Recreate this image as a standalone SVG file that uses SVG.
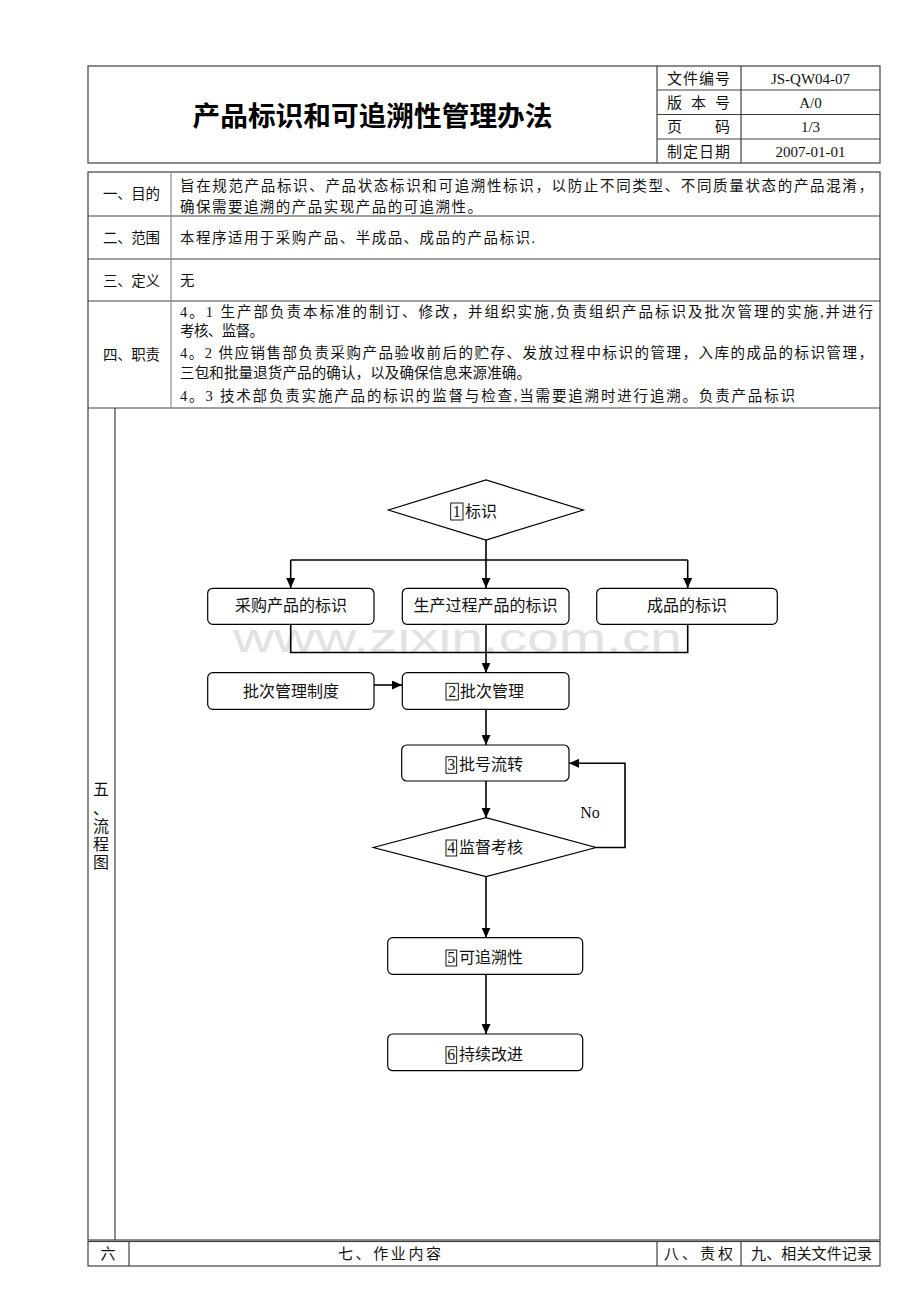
<svg xmlns="http://www.w3.org/2000/svg" width="920" height="1302" viewBox="0 0 920 1302">
<style>
.tbl{fill:none;stroke:#404040;stroke-width:1.2}
.ln{stroke:#404040;stroke-width:1.2;fill:none}
.ln2{stroke:#8a8a8a;stroke-width:1.2;fill:none}
.t{font-family:"Liberation Serif","Noto Sans CJK SC",serif;font-size:14.5px;fill:#111}
.hd{font-family:"Liberation Serif","Noto Sans CJK SC",serif;font-size:15px;fill:#111}
.title{font-family:"Noto Sans CJK SC",sans-serif;font-size:27px;font-weight:bold;fill:#000}
.ft{font-family:"Liberation Serif","Noto Sans CJK SC",serif;font-size:16px;fill:#111}
.box{fill:#fff;stroke:#000;stroke-width:1.2}
.num{fill:none;stroke:#000;stroke-width:0.9}
.cn{stroke:#000;stroke-width:1.6;fill:none}
.wm{font-family:"Liberation Sans",Arial,sans-serif;font-size:40px;fill:#e2e2e2}
</style>
<defs>
<marker id="ah" markerUnits="userSpaceOnUse" markerWidth="10" markerHeight="9" refX="10" refY="4.5" orient="auto">
<path d="M0,0 L10,4.5 L0,9 z" fill="#000"/>
</marker>
</defs>
<rect width="920" height="1302" fill="#fff"/>

<!-- header table -->
<g id="header">
<rect class="tbl" x="88" y="66" width="792" height="97"/>
<line class="ln" x1="657" y1="66" x2="657" y2="163"/>
<line class="ln" x1="741" y1="66" x2="741" y2="163"/>
<line class="ln" x1="657" y1="90" x2="880" y2="90"/>
<line class="ln" x1="657" y1="114.5" x2="880" y2="114.5"/>
<line class="ln" x1="657" y1="139" x2="880" y2="139"/>
<text class="title" x="372.5" y="126" text-anchor="middle" textLength="360" lengthAdjust="spacingAndGlyphs">产品标识和可追溯性管理办法</text>
<text class="hd" x="667" y="84" textLength="63" lengthAdjust="spacing">文件编号</text>
<text class="hd" x="667" y="108" textLength="63" lengthAdjust="spacing">版本号</text>
<text class="hd" x="667" y="132" textLength="63" lengthAdjust="spacing">页码</text>
<text class="hd" x="667" y="157" textLength="63" lengthAdjust="spacing">制定日期</text>
<text class="hd" x="810.5" y="84" text-anchor="middle" font-size="14">JS-QW04-07</text>
<text class="hd" x="810.5" y="108" text-anchor="middle" font-size="14">A/0</text>
<text class="hd" x="810.5" y="132" text-anchor="middle" font-size="14">1/3</text>
<text class="hd" x="810.5" y="157" text-anchor="middle" font-size="14">2007-01-01</text>
</g>

<!-- main table -->
<g id="main-table">
<rect class="tbl" x="88" y="172" width="792" height="1068"/>
<line class="ln" x1="88" y1="216" x2="880" y2="216"/>
<line class="ln" x1="88" y1="259" x2="880" y2="259"/>
<line class="ln" x1="88" y1="301" x2="880" y2="301"/>
<line class="ln" x1="88" y1="408" x2="880" y2="408"/>
<line class="ln2" x1="171" y1="172" x2="171" y2="408"/>
<line class="ln" x1="115" y1="408" x2="115" y2="1240"/>

<text class="t" x="103" y="199" textLength="57" lengthAdjust="spacing">一、目的</text>
<text class="t" x="180" y="191" textLength="693" lengthAdjust="spacing">旨在规范产品标识、产品状态标识和可追溯性标识，以防止不同类型、不同质量状态的产品混淆，</text>
<text class="t" x="180" y="212" textLength="302" lengthAdjust="spacing">确保需要追溯的产品实现产品的可追溯性。</text>

<text class="t" x="103" y="243" textLength="57" lengthAdjust="spacing">二、范围</text>
<text class="t" x="180" y="243" textLength="355" lengthAdjust="spacing">本程序适用于采购产品、半成品、成品的产品标识.</text>

<text class="t" x="103" y="286" textLength="57" lengthAdjust="spacing">三、定义</text>
<text class="t" x="180" y="286">无</text>

<text class="t" x="103" y="360" textLength="57" lengthAdjust="spacing">四、职责</text>
<text class="t" x="180" y="317" textLength="693" lengthAdjust="spacing">4。1 生产部负责本标准的制订、修改，并组织实施,负责组织产品标识及批次管理的实施,并进行</text>
<text class="t" x="180" y="336" textLength="84" lengthAdjust="spacing">考核、监督。</text>
<text class="t" x="180" y="358" textLength="693" lengthAdjust="spacing">4。2 供应销售部负责采购产品验收前后的贮存、发放过程中标识的管理，入库的成品的标识管理，</text>
<text class="t" x="180" y="378" textLength="351" lengthAdjust="spacing">三包和批量退货产品的确认，以及确保信息来源准确。</text>
<text class="t" x="180" y="401" textLength="615" lengthAdjust="spacing">4。3 技术部负责实施产品的标识的监督与检查,当需要追溯时进行追溯。负责产品标识</text>

<g class="ft" text-anchor="middle" font-size="16">
<text x="101" y="795">五</text>
<text x="101" y="814">、</text>
<text x="101" y="832">流</text>
<text x="101" y="850">程</text>
<text x="101" y="868">图</text>
</g>
</g>

<!-- bottom row -->
<g id="bottom-row">
<rect class="tbl" x="88" y="1241.5" width="792" height="24.5"/>
<line class="ln" x1="129" y1="1241.5" x2="129" y2="1266"/>
<line class="ln" x1="657" y1="1241.5" x2="657" y2="1266"/>
<line class="ln" x1="741" y1="1241.5" x2="741" y2="1266"/>
<text class="hd" x="108" y="1259" text-anchor="middle">六</text>
<text class="hd" x="338" y="1259" textLength="103" lengthAdjust="spacing">七、作业内容</text>
<text class="hd" x="664" y="1259" textLength="69" lengthAdjust="spacing">八、责权</text>
<text class="hd" x="751" y="1259" textLength="121" lengthAdjust="spacing">九、相关文件记录</text>
</g>

<!-- watermark -->
<text class="wm" x="233" y="652" textLength="449" lengthAdjust="spacingAndGlyphs">www.zixin.com.cn</text>

<!-- connectors -->
<g id="connectors">
<path class="cn" d="M486,540 V560"/>
<path class="cn" d="M290.7,560 H687.7"/>
<path class="cn" d="M290.7,560 V588" marker-end="url(#ah)"/>
<path class="cn" d="M486,560 V588" marker-end="url(#ah)"/>
<path class="cn" d="M687.7,560 V588" marker-end="url(#ah)"/>
<path class="cn" d="M290.7,624.5 V652.5 H687.7 V624.5"/>
<path class="cn" d="M486,624.5 V672.7" marker-end="url(#ah)"/>
<path class="cn" d="M374,685 H402" marker-end="url(#ah)"/>
<path class="cn" d="M486,709 V745" marker-end="url(#ah)"/>
<path class="cn" d="M486,781 V818" marker-end="url(#ah)"/>
<path class="cn" d="M596,847.5 H625 V763.3 H569" marker-end="url(#ah)"/>
<text class="ft" x="590" y="818" text-anchor="middle" font-size="15">No</text>
<path class="cn" d="M486,877 V937.7" marker-end="url(#ah)"/>
<path class="cn" d="M486,974.3 V1034" marker-end="url(#ah)"/>
</g>

<!-- nodes -->
<g id="n1">
<polygon class="box" points="388.3,510 486,480 583.3,510 486,540"/>
<rect class="num" x="450.7" y="503" width="12.3" height="17"/>
<text class="ft" x="456.8" y="517" text-anchor="middle">1</text>
<text class="ft" x="465" y="517">标识</text>
</g>
<g id="n-purchase">
<rect class="box" x="207.7" y="588.3" width="166.3" height="36" rx="5"/>
<text class="ft" x="291" y="611" text-anchor="middle">采购产品的标识</text>
</g>
<g id="n-process">
<rect class="box" x="402.3" y="588.3" width="166.7" height="36" rx="5"/>
<text class="ft" x="485.5" y="611" text-anchor="middle">生产过程产品的标识</text>
</g>
<g id="n-finished">
<rect class="box" x="596.7" y="588.3" width="180.6" height="36" rx="5"/>
<text class="ft" x="687" y="611" text-anchor="middle">成品的标识</text>
</g>
<g id="n-batchrule">
<rect class="box" x="207.7" y="672.7" width="166.3" height="36.6" rx="5"/>
<text class="ft" x="291" y="697" text-anchor="middle">批次管理制度</text>
</g>
<g id="n2">
<rect class="box" x="402.3" y="672.7" width="166.7" height="36.6" rx="5"/>
<rect class="num" x="446" y="683.3" width="12.3" height="16.7"/>
<text class="ft" x="452.2" y="697" text-anchor="middle">2</text>
<text class="ft" x="460" y="697">批次管理</text>
</g>
<g id="n3">
<rect class="box" x="401.7" y="745" width="167.3" height="36" rx="5"/>
<rect class="num" x="446" y="756.7" width="10.7" height="16.6"/>
<text class="ft" x="451.3" y="770" text-anchor="middle">3</text>
<text class="ft" x="459" y="770">批号流转</text>
</g>
<g id="n4">
<polygon class="box" points="373.3,847.5 486,817.7 596,847.5 486,876.7"/>
<rect class="num" x="446" y="840" width="10.7" height="16"/>
<text class="ft" x="451.3" y="853" text-anchor="middle">4</text>
<text class="ft" x="459" y="853">监督考核</text>
</g>
<g id="n5">
<rect class="box" x="387.7" y="937.7" width="195" height="36.6" rx="5"/>
<rect class="num" x="446" y="950" width="10.7" height="16"/>
<text class="ft" x="451.3" y="963" text-anchor="middle">5</text>
<text class="ft" x="459" y="963">可追溯性</text>
</g>
<g id="n6">
<rect class="box" x="387.7" y="1034" width="195" height="36.7" rx="5"/>
<rect class="num" x="446" y="1046.7" width="10.7" height="16.6"/>
<text class="ft" x="451.3" y="1060" text-anchor="middle">6</text>
<text class="ft" x="459" y="1060">持续改进</text>
</g>
</svg>
